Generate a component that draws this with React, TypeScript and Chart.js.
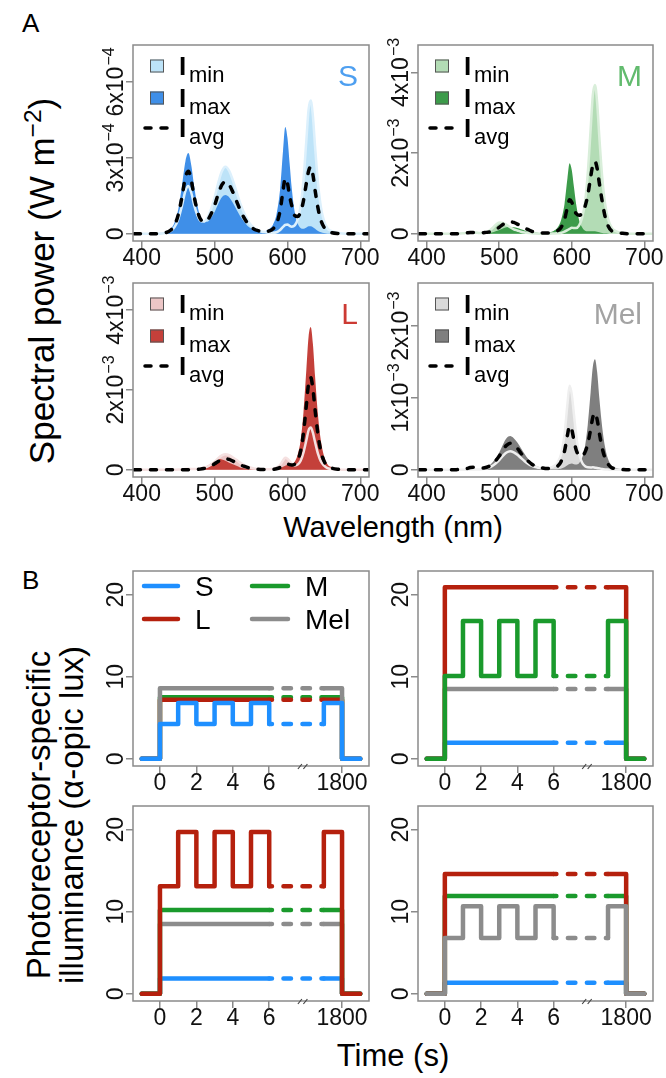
import React, { useEffect, useRef } from 'react';
import { Chart, registerables } from 'chart.js';

Chart.register(...registerables);

const FONT = '"Liberation Sans", Arial, Helvetica, sans-serif';

// ---------------- Panel A : spectra ----------------
const WAVELENGTH = [
  390, 400, 410, 420, 430, 440, 445, 450, 455, 460,
  464, 468, 472, 476, 480, 485, 490, 495, 500, 505,
  510, 515, 520, 525, 530, 535, 540, 545, 550, 555,
  560, 565, 570, 575, 580, 585, 590, 594, 597, 600,
  603, 606, 610, 614, 618, 622, 626, 629, 632, 635,
  638, 642, 646, 650, 655, 660, 670, 680, 690, 700,
  710,
];

// S panel (units of 1e-4 W m-2)
const S_MIN = [
  0, 0, 0, 0, 0.02, 0.11, 0.26, 0.56, 1.08, 1.70,
  1.89, 1.62, 1.13, 0.76, 0.53, 0.48, 0.62, 0.96, 1.42, 2.01,
  2.47, 2.65, 2.49, 2.12, 1.67, 1.22, 0.85, 0.56, 0.34, 0.21,
  0.14, 0.08, 0.06, 0.04, 0.04, 0.06, 0.15, 0.27, 0.35, 0.37,
  0.31, 0.28, 0.33, 0.56, 1.06, 2.11, 3.69, 4.90, 5.27, 4.64,
  3.43, 2.00, 1.05, 0.53, 0.21, 0.11, 0.03, 0, 0, 0,
  0,
];
const S_MAX = [
  0, 0, 0, 0, 0.03, 0.19, 0.44, 0.95, 1.84, 2.87,
  3.19, 2.71, 1.87, 1.19, 0.72, 0.49, 0.47, 0.62, 0.86, 1.18,
  1.44, 1.53, 1.44, 1.22, 0.96, 0.70, 0.49, 0.32, 0.22, 0.14,
  0.12, 0.09, 0.11, 0.19, 0.35, 0.76, 1.77, 3.29, 4.22, 3.80,
  2.79, 1.78, 0.86, 0.41, 0.23, 0.20, 0.25, 0.30, 0.30, 0.26,
  0.20, 0.11, 0.06, 0.03, 0.01, 0.006, 0, 0, 0, 0,
  0,
];
const S_AVG = [
  0, 0, 0, 0, 0.02, 0.15, 0.34, 0.74, 1.42, 2.23,
  2.47, 2.11, 1.46, 0.95, 0.61, 0.48, 0.53, 0.77, 1.12, 1.57,
  1.93, 2.06, 1.94, 1.65, 1.30, 0.95, 0.66, 0.43, 0.28, 0.17,
  0.12, 0.08, 0.08, 0.11, 0.19, 0.39, 0.92, 1.71, 2.19, 2.00,
  1.49, 1.10, 0.72, 0.68, 0.85, 1.30, 2.00, 2.47, 2.65, 2.33,
  1.72, 1.01, 0.53, 0.27, 0.11, 0.05, 0.01, 0, 0, 0,
  0,
];

// M panel (units of 1e-3 W m-2)
const M_MIN = [
  0, 0, 0, 0, 0, 0, 0.004, 0.01, 0.02, 0.03,
  0.03, 0.03, 0.02, 0.02, 0.03, 0.06, 0.13, 0.22, 0.28, 0.27,
  0.22, 0.16, 0.11, 0.08, 0.05, 0.03, 0.02, 0.01, 0.003, 0,
  0, 0, 0, 0.005, 0.01, 0.02, 0.05, 0.09, 0.12, 0.15,
  0.14, 0.14, 0.20, 0.38, 0.74, 1.48, 2.58, 3.43, 3.69, 3.25,
  2.40, 1.40, 0.74, 0.37, 0.15, 0.07, 0.02, 0, 0, 0,
  0,
];
const M_MAX = [
  0, 0, 0, 0, 0, 0, 0, 0, 0, 0,
  0, 0, 0.003, 0.006, 0.01, 0.02, 0.03, 0.06, 0.09, 0.13,
  0.16, 0.17, 0.16, 0.14, 0.11, 0.08, 0.05, 0.04, 0.03, 0.02,
  0.02, 0.02, 0.04, 0.07, 0.14, 0.32, 0.74, 1.37, 1.75, 1.58,
  1.16, 0.74, 0.35, 0.17, 0.08, 0.06, 0.06, 0.06, 0.06, 0.05,
  0.04, 0.02, 0.01, 0.006, 0, 0, 0, 0, 0, 0,
  0,
];
const M_AVG = [
  0, 0, 0, 0, 0, 0, 0.004, 0.01, 0.02, 0.03,
  0.03, 0.03, 0.02, 0.02, 0.03, 0.04, 0.06, 0.10, 0.16, 0.23,
  0.28, 0.30, 0.28, 0.24, 0.19, 0.14, 0.10, 0.06, 0.04, 0.03,
  0.02, 0.02, 0.02, 0.04, 0.07, 0.15, 0.35, 0.66, 0.84, 0.78,
  0.62, 0.50, 0.46, 0.50, 0.66, 0.95, 1.40, 1.70, 1.79, 1.62,
  1.25, 0.80, 0.42, 0.20, 0.07, 0.04, 0.01, 0, 0, 0,
  0,
];

// L panel (units of 1e-3 W m-2)
const L_MIN = [
  0, 0, 0, 0, 0, 0, 0.003, 0.006, 0.012, 0.022,
  0.024, 0.023, 0.02, 0.021, 0.027, 0.045, 0.08, 0.13, 0.20, 0.29,
  0.36, 0.39, 0.37, 0.31, 0.25, 0.18, 0.125, 0.08, 0.05, 0.03,
  0.023, 0.015, 0.014, 0.016, 0.026, 0.054, 0.126, 0.234, 0.30, 0.28,
  0.22, 0.15, 0.11, 0.13, 0.22, 0.43, 0.74, 0.99, 1.06, 0.93,
  0.69, 0.40, 0.21, 0.11, 0.04, 0.02, 0.005, 0, 0, 0,
  0,
];
const L_MAX = [
  0, 0, 0, 0, 0, 0, 0, 0, 0, 0,
  0.003, 0.005, 0.01, 0.016, 0.027, 0.054, 0.10, 0.16, 0.22, 0.27,
  0.26, 0.23, 0.18, 0.14, 0.10, 0.06, 0.04, 0.02, 0.01, 0.01,
  0.005, 0.003, 0.002, 0.004, 0.008, 0.018, 0.042, 0.078, 0.10, 0.13,
  0.12, 0.13, 0.20, 0.37, 0.72, 1.43, 2.51, 3.33, 3.58, 3.15,
  2.33, 1.36, 0.72, 0.36, 0.14, 0.07, 0.02, 0, 0, 0,
  0,
];
const L_AVG = [
  0, 0, 0, 0, 0, 0, 0, 0, 0, 0,
  0.002, 0.003, 0.005, 0.01, 0.017, 0.031, 0.056, 0.095, 0.15, 0.21,
  0.26, 0.28, 0.26, 0.22, 0.18, 0.13, 0.09, 0.06, 0.036, 0.022,
  0.014, 0.008, 0.006, 0.006, 0.011, 0.025, 0.059, 0.11, 0.14, 0.15,
  0.13, 0.12, 0.14, 0.24, 0.46, 0.92, 1.62, 2.15, 2.31, 2.03,
  1.50, 0.88, 0.46, 0.23, 0.09, 0.046, 0.012, 0, 0, 0,
  0,
];

// Mel panel (units of 1e-3 W m-2)
const MEL_MIN = [
  0, 0, 0, 0, 0, 0, 0, 0, 0, 0.003,
  0.003, 0.004, 0.005, 0.009, 0.016, 0.029, 0.052, 0.088, 0.135, 0.195,
  0.24, 0.26, 0.244, 0.21, 0.164, 0.12, 0.083, 0.055, 0.04, 0.027,
  0.025, 0.02, 0.028, 0.05, 0.094, 0.21, 0.49, 0.91, 1.17, 1.05,
  0.77, 0.49, 0.23, 0.105, 0.053, 0.035, 0.033, 0.034, 0.03, 0.026,
  0.02, 0.011, 0.006, 0.003, 0, 0, 0, 0, 0, 0,
  0,
];
const MEL_MAX = [
  0, 0, 0, 0, 0, 0, 0, 0, 0, 0.005,
  0.005, 0.007, 0.009, 0.016, 0.028, 0.052, 0.094, 0.16, 0.24, 0.35,
  0.44, 0.47, 0.44, 0.38, 0.30, 0.22, 0.15, 0.10, 0.06, 0.038,
  0.024, 0.014, 0.009, 0.008, 0.008, 0.014, 0.034, 0.062, 0.08, 0.087,
  0.076, 0.073, 0.093, 0.16, 0.31, 0.62, 1.08, 1.43, 1.54, 1.36,
  1.00, 0.59, 0.31, 0.15, 0.06, 0.03, 0.008, 0, 0, 0,
  0,
];
const MEL_AVG = [
  0, 0, 0, 0, 0, 0.002, 0.004, 0.009, 0.017, 0.031,
  0.034, 0.032, 0.024, 0.024, 0.028, 0.044, 0.074, 0.126, 0.19, 0.28,
  0.34, 0.37, 0.35, 0.30, 0.23, 0.17, 0.12, 0.078, 0.051, 0.033,
  0.025, 0.017, 0.019, 0.028, 0.049, 0.11, 0.26, 0.48, 0.61, 0.56,
  0.41, 0.28, 0.20, 0.19, 0.24, 0.36, 0.56, 0.73, 0.79, 0.70,
  0.51, 0.30, 0.16, 0.08, 0.03, 0.016, 0.004, 0, 0, 0,
  0,
];

const A_XTICKS = [400, 500, 600, 700];
const A_XTICK_LABELS = ['400', '500', '600', '700'];
const S_YTICKS = [0, 3, 6];
const S_YTICK_LABELS = ['0', '3x10^\u22124', '6x10^\u22124'];
const ML_YTICKS = [0, 2, 4];
const ML_YTICK_LABELS = ['0', '2x10^\u22123', '4x10^\u22123'];
const MEL_YTICKS = [0, 1, 2];
const MEL_YTICK_LABELS = ['0', '1x10^\u22123', '2x10^\u22123'];
const A_LEGEND_SUBS = ['min', 'max', 'avg'];

// ---------------- Panel B : time courses ----------------
const STEP_TIMES = [-1, 0, 1, 2, 3, 4, 5, 6, 9, 10, 11];
// level on each interval between consecutive STEP_TIMES (alpha-opic lux)
const B1_S = [0, 4.25, 6.8, 4.25, 6.8, 4.25, 6.8, 4.25, 6.8, 0];
const B1_M = [0, 7.5, 7.5, 7.5, 7.5, 7.5, 7.5, 7.5, 7.5, 0];
const B1_L = [0, 7.2, 7.2, 7.2, 7.2, 7.2, 7.2, 7.2, 7.2, 0];
const B1_MEL = [0, 8.6, 8.6, 8.6, 8.6, 8.6, 8.6, 8.6, 8.6, 0];
const B2_S = [0, 1.95, 1.95, 1.95, 1.95, 1.95, 1.95, 1.95, 1.95, 0];
const B2_M = [0, 10.1, 16.8, 10.1, 16.8, 10.1, 16.8, 10.1, 16.8, 0];
const B2_L = [0, 20.9, 20.9, 20.9, 20.9, 20.9, 20.9, 20.9, 20.9, 0];
const B2_MEL = [0, 8.5, 8.5, 8.5, 8.5, 8.5, 8.5, 8.5, 8.5, 0];
const B3_S = [0, 1.85, 1.85, 1.85, 1.85, 1.85, 1.85, 1.85, 1.85, 0];
const B3_M = [0, 10.2, 10.2, 10.2, 10.2, 10.2, 10.2, 10.2, 10.2, 0];
const B3_L = [0, 13.1, 19.7, 13.1, 19.7, 13.1, 19.7, 13.1, 19.7, 0];
const B3_MEL = [0, 8.5, 8.5, 8.5, 8.5, 8.5, 8.5, 8.5, 8.5, 0];
const B4_S = [0, 1.35, 1.35, 1.35, 1.35, 1.35, 1.35, 1.35, 1.35, 0];
const B4_M = [0, 11.9, 11.9, 11.9, 11.9, 11.9, 11.9, 11.9, 11.9, 0];
const B4_L = [0, 14.6, 14.6, 14.6, 14.6, 14.6, 14.6, 14.6, 14.6, 0];
const B4_MEL = [0, 6.8, 10.65, 6.8, 10.65, 6.8, 10.65, 6.8, 10.65, 0];

const B_XTICKS = [0, 2, 4, 6, 10];
const B_XTICK_LABELS = ['0', '2', '4', '6', '1800'];
const B_YTICKS = [0, 10, 20];
const B_YTICK_LABELS = ['0', '10', '20'];
const B_LEGEND_LABELS = ['S', 'M', 'L', 'Mel'];
const DASHED_FROM = 6;
const DASHED_TO = 9;
const B_BREAK_AT = 7.85;

// ---------------- styling ----------------
const COL_S = '#1e8fff';
const COL_M = '#1a9a2c';
const COL_L = '#b5200d';
const COL_MEL = '#8c8c8c';
const AVG_DASH = [6, 10];
const SEG_DASH = [7.5, 11.5];
const SEG_DASH_OFFSET = 4.75;

const ML = 50, MR = 12, MT = 8, MB = 40;
type Box = { l: number; t: number; r: number; b: number };
const BOX_A1: Box = { l: 133, t: 45, r: 369, b: 241 };
const BOX_A2: Box = { l: 418, t: 45, r: 653, b: 241 };
const BOX_A3: Box = { l: 133, t: 283, r: 369, b: 477 };
const BOX_A4: Box = { l: 418, t: 283, r: 653, b: 477 };
const BOX_B1: Box = { l: 133, t: 571, r: 369, b: 766 };
const BOX_B2: Box = { l: 418, t: 571, r: 653, b: 766 };
const BOX_B3: Box = { l: 133, t: 806, r: 369, b: 1001 };
const BOX_B4: Box = { l: 418, t: 806, r: 653, b: 1001 };

function makeAxis(min: number, max: number, ticks: number[], horizontal: boolean) {
  return {
    type: 'linear' as const,
    min,
    max,
    afterBuildTicks: (s: any) => {
      s.ticks = ticks.map((v) => ({ value: v }));
    },
    afterFit: (s: any) => {
      if (horizontal) s.height = MB;
      else s.width = ML;
    },
    ticks: { display: false },
    grid: {
      display: true,
      drawOnChartArea: false,
      drawTicks: true,
      tickLength: 7,
      color: '#8a8a8a',
      lineWidth: 1.5,
    },
    border: { display: false },
  };
}

function drawRich(ctx: CanvasRenderingContext2D, label: string) {
  const [main, sup] = label.split('^');
  ctx.textAlign = 'left';
  ctx.font = `23px ${FONT}`;
  const w1 = ctx.measureText(main).width;
  let w2 = 0;
  if (sup) {
    ctx.font = `16px ${FONT}`;
    w2 = ctx.measureText(sup).width + 1;
  }
  const x0 = -(w1 + w2) / 2;
  ctx.font = `23px ${FONT}`;
  ctx.fillText(main, x0, 0);
  if (sup) {
    ctx.font = `16px ${FONT}`;
    ctx.fillText(sup, x0 + w1 + 1, -9);
  }
}

function decor(xLabels: string[], yLabels: string[], extra: (ctx: CanvasRenderingContext2D, a: any, chart: any) => void) {
  return {
    id: 'decor',
    afterDraw(chart: any) {
      const ctx: CanvasRenderingContext2D = chart.ctx;
      const a = chart.chartArea;
      const xs = chart.scales.x;
      const ys = chart.scales.y;
      ctx.save();
      ctx.setLineDash([]);
      ctx.strokeStyle = '#8a8a8a';
      ctx.lineWidth = 1.5;
      ctx.strokeRect(a.left, a.top, a.right - a.left, a.bottom - a.top);
      ctx.fillStyle = '#111';
      ctx.textBaseline = 'alphabetic';
      ctx.font = `23px ${FONT}`;
      ctx.textAlign = 'center';
      xs.ticks.forEach((t: any, i: number) => {
        ctx.fillText(xLabels[i], xs.getPixelForValue(t.value), a.bottom + 24);
      });
      ys.ticks.forEach((t: any, i: number) => {
        ctx.save();
        ctx.translate(a.left - 10, ys.getPixelForValue(t.value));
        ctx.rotate(-Math.PI / 2);
        drawRich(ctx, yLabels[i]);
        ctx.restore();
      });
      extra(ctx, a, chart);
      ctx.restore();
    },
  };
}

type SpecPanel = {
  name: string;
  min: number[];
  max: number[];
  avg: number[];
  ymin: number;
  ymax: number;
  yticks: number[];
  ylabels: string[];
  minFill: string;
  maxFill: string;
  minLine: string;
  nameColor: string;
};

const PANEL_S: SpecPanel = {
  name: 'S', min: S_MIN, max: S_MAX, avg: S_AVG, ymin: -0.287, ymax: 7.46,
  yticks: S_YTICKS, ylabels: S_YTICK_LABELS,
  minFill: '#bde3f8', maxFill: '#3f8fe8', minLine: '#dcf0fc', nameColor: '#4e9ff0',
};
const PANEL_M: SpecPanel = {
  name: 'M', min: M_MIN, max: M_MAX, avg: M_AVG, ymin: -0.18, ymax: 4.68,
  yticks: ML_YTICKS, ylabels: ML_YTICK_LABELS,
  minFill: '#b3dcb5', maxFill: '#3c9b4a', minLine: '#d9eeda', nameColor: '#62bb6e',
};
const PANEL_L: SpecPanel = {
  name: 'L', min: L_MIN, max: L_MAX, avg: L_AVG, ymin: -0.18, ymax: 4.68,
  yticks: ML_YTICKS, ylabels: ML_YTICK_LABELS,
  minFill: '#ecc6c6', maxFill: '#c4403a', minLine: '#f5e1e1', nameColor: '#cc3a33',
};
const PANEL_MEL: SpecPanel = {
  name: 'Mel', min: MEL_MIN, max: MEL_MAX, avg: MEL_AVG, ymin: -0.1, ymax: 2.6,
  yticks: MEL_YTICKS, ylabels: MEL_YTICK_LABELS,
  minFill: '#dadada', maxFill: '#7f7f7f', minLine: '#efefef', nameColor: '#a3a3a3',
};

function drawALegend(ctx: CanvasRenderingContext2D, a: any, p: SpecPanel) {
  const rows = [a.top + 21, a.top + 53, a.top + 83];
  [p.minFill, p.maxFill].forEach((c, i) => {
    ctx.fillStyle = c;
    ctx.fillRect(a.left + 17, rows[i] - 6.5, 14, 13);
    ctx.strokeStyle = '#555';
    ctx.lineWidth = 1;
    ctx.strokeRect(a.left + 17.5, rows[i] - 6, 13, 12);
  });
  ctx.strokeStyle = '#000';
  ctx.lineWidth = 3.5;
  ctx.lineCap = 'round';
  ctx.setLineDash(AVG_DASH);
  ctx.beginPath();
  ctx.moveTo(a.left + 12, rows[2]);
  ctx.lineTo(a.left + 35, rows[2]);
  ctx.stroke();
  ctx.setLineDash([]);
  ctx.fillStyle = '#000';
  ctx.textAlign = 'left';
  A_LEGEND_SUBS.forEach((sub, i) => {
    ctx.font = `bold 26px ${FONT}`;
    ctx.fillText('I', a.left + 46, rows[i] + 9);
    ctx.font = `22px ${FONT}`;
    ctx.fillText(sub, a.left + 56, rows[i] + 16);
  });
  ctx.fillStyle = p.nameColor;
  ctx.font = `30px ${FONT}`;
  ctx.textAlign = 'right';
  ctx.fillText(p.name, a.right - 11, a.top + 41);
}

function spectrumConfig(p: SpecPanel): any {
  const pts = (arr: number[]) => WAVELENGTH.map((w, i) => ({ x: w, y: arr[i] }));
  const base = { pointRadius: 0, cubicInterpolationMode: 'monotone', borderCapStyle: 'round', borderJoinStyle: 'round' };
  return {
    type: 'line',
    data: {
      datasets: [
        { ...base, data: pts(p.min), fill: 'origin', backgroundColor: p.minFill, borderColor: 'rgba(0,0,0,0)', borderWidth: 0, order: 3 },
        { ...base, data: pts(p.max), fill: 'origin', backgroundColor: p.maxFill, borderColor: 'rgba(0,0,0,0)', borderWidth: 0, order: 2 },
        { ...base, data: pts(p.min), fill: false, borderColor: p.minLine, borderWidth: 2.5, order: 1 },
        { ...base, data: pts(p.avg), fill: false, borderColor: '#000', borderWidth: 3.5, borderDash: AVG_DASH, order: 0 },
      ],
    },
    options: {
      responsive: false,
      animation: false,
      devicePixelRatio: 1,
      events: [],
      layout: { padding: { left: 0, right: MR, top: MT, bottom: 0 } },
      plugins: { legend: { display: false }, tooltip: { enabled: false } },
      scales: {
        x: makeAxis(388, 712, A_XTICKS, true),
        y: makeAxis(p.ymin, p.ymax, p.yticks, false),
      },
    },
    plugins: [decor(A_XTICK_LABELS, p.ylabels, (ctx, a) => drawALegend(ctx, a, p))],
  };
}

function stepPoints(levels: number[]) {
  const pts: { x: number; y: number }[] = [];
  for (let i = 0; i < levels.length; i++) {
    pts.push({ x: STEP_TIMES[i], y: levels[i] }, { x: STEP_TIMES[i + 1], y: levels[i] });
  }
  return pts;
}

const isDashed = (c: any) => c.p0.parsed.x === DASHED_FROM && c.p1.parsed.x === DASHED_TO;

function stepDataset(levels: number[], color: string, order: number) {
  return {
    data: stepPoints(levels),
    borderColor: color,
    borderWidth: 4.5,
    pointRadius: 0,
    fill: false,
    tension: 0,
    borderCapStyle: 'round',
    borderJoinStyle: 'round',
    order,
    segment: {
      borderDash: (c: any) => (isDashed(c) ? SEG_DASH : undefined),
      borderDashOffset: (c: any) => (isDashed(c) ? SEG_DASH_OFFSET : undefined),
    },
  };
}

type TimePanel = {
  s: number[]; m: number[]; l: number[]; mel: number[];
  order: { s: number; m: number; l: number; mel: number };
  legend: boolean;
};

const PANEL_B1: TimePanel = { s: B1_S, m: B1_M, l: B1_L, mel: B1_MEL, order: { s: 0, mel: 1, l: 2, m: 3 }, legend: true };
const PANEL_B2: TimePanel = { s: B2_S, m: B2_M, l: B2_L, mel: B2_MEL, order: { m: 0, l: 1, mel: 2, s: 3 }, legend: false };
const PANEL_B3: TimePanel = { s: B3_S, m: B3_M, l: B3_L, mel: B3_MEL, order: { l: 0, m: 1, mel: 2, s: 3 }, legend: false };
const PANEL_B4: TimePanel = { s: B4_S, m: B4_M, l: B4_L, mel: B4_MEL, order: { mel: 0, l: 1, m: 2, s: 3 }, legend: false };

function drawBExtras(ctx: CanvasRenderingContext2D, a: any, chart: any, legend: boolean) {
  const xs = chart.scales.x;
  const px = xs.getPixelForValue(B_BREAK_AT);
  ctx.strokeStyle = '#444';
  ctx.lineWidth = 1.2;
  ctx.lineCap = 'butt';
  ctx.beginPath();
  ctx.moveTo(px - 5, a.bottom + 3);
  ctx.lineTo(px - 1, a.bottom - 2);
  ctx.moveTo(px + 0.5, a.bottom + 3);
  ctx.lineTo(px + 4.5, a.bottom - 2);
  ctx.stroke();
  if (!legend) return;
  const colors = [COL_S, COL_M, COL_L, COL_MEL];
  const rows = [a.top + 15, a.top + 48];
  const lineX = [[a.left + 11, a.left + 45], [a.left + 119, a.left + 155]];
  const textX = [a.left + 62, a.left + 172];
  B_LEGEND_LABELS.forEach((lab, i) => {
    const col = i % 2;
    const row = Math.floor(i / 2);
    ctx.strokeStyle = colors[i];
    ctx.lineWidth = 4.5;
    ctx.lineCap = 'round';
    ctx.beginPath();
    ctx.moveTo(lineX[col][0], rows[row]);
    ctx.lineTo(lineX[col][1], rows[row]);
    ctx.stroke();
    ctx.fillStyle = '#000';
    ctx.font = `28px ${FONT}`;
    ctx.textAlign = 'left';
    ctx.fillText(lab, textX[col], rows[row] + 10);
  });
}

function timeConfig(p: TimePanel): any {
  return {
    type: 'line',
    data: {
      datasets: [
        stepDataset(p.l, COL_L, p.order.l),
        stepDataset(p.m, COL_M, p.order.m),
        stepDataset(p.mel, COL_MEL, p.order.mel),
        stepDataset(p.s, COL_S, p.order.s),
      ],
    },
    options: {
      responsive: false,
      animation: false,
      devicePixelRatio: 1,
      events: [],
      layout: { padding: { left: 0, right: MR, top: MT, bottom: 0 } },
      plugins: { legend: { display: false }, tooltip: { enabled: false } },
      scales: {
        x: makeAxis(-1.48, 11.48, B_XTICKS, true),
        y: makeAxis(-0.88, 22.88, B_YTICKS, false),
      },
    },
    plugins: [decor(B_XTICK_LABELS, B_YTICK_LABELS, (ctx, a, chart) => drawBExtras(ctx, a, chart, p.legend))],
  };
}

function ChartPanel({ box, make }: { box: Box; make: () => any }) {
  const ref = useRef<HTMLCanvasElement>(null);
  useEffect(() => {
    const chart = new Chart(ref.current as HTMLCanvasElement, make());
    return () => chart.destroy();
  }, []);
  const w = box.r - box.l + ML + MR;
  const h = box.b - box.t + MT + MB;
  return (
    <canvas
      ref={ref}
      width={w}
      height={h}
      style={{ position: 'absolute', left: box.l - ML, top: box.t - MT, width: w, height: h }}
    />
  );
}

function Text({ x, baseline, size, children, center }: { x: number; baseline: number; size: number; children: React.ReactNode; center?: boolean }) {
  return (
    <div
      style={{
        position: 'absolute',
        left: x,
        top: baseline - 0.8465 * size,
        fontSize: size,
        lineHeight: 1,
        fontFamily: FONT,
        whiteSpace: 'nowrap',
        color: '#000',
        transform: center ? 'translateX(-50%)' : undefined,
      }}
    >
      {children}
    </div>
  );
}

function VText({ cx, cy, size, children }: { cx: number; cy: number; size: number; children: React.ReactNode }) {
  return (
    <div
      style={{
        position: 'absolute',
        left: cx,
        top: cy,
        fontSize: size,
        lineHeight: 1,
        fontFamily: FONT,
        whiteSpace: 'nowrap',
        color: '#000',
        transform: 'translate(-50%, -50%) rotate(-90deg)',
      }}
    >
      {children}
    </div>
  );
}

export default function App() {
  return (
    <div style={{ position: 'absolute', left: 0, top: 0, width: 666, height: 1078, background: '#fff', overflow: 'hidden' }}>
      <Text x={22} baseline={32} size={26}>A</Text>
      <Text x={22} baseline={589} size={26}>B</Text>
      <VText cx={41} cy={281} size={35}>
        Spectral power (W m<span style={{ fontSize: '0.7em', position: 'relative', top: '-0.55em' }}>{'\u22122'}</span>)
      </VText>
      <Text x={393} baseline={538} size={29} center>Wavelength (nm)</Text>
      <VText cx={38} cy={815} size={33}>Photoreceptor-specific</VText>
      <VText cx={71} cy={815} size={33}>illuminance ({'\u03b1'}-opic lux)</VText>
      <Text x={393} baseline={1066} size={31} center>Time (s)</Text>

      <ChartPanel box={BOX_A1} make={() => spectrumConfig(PANEL_S)} />
      <ChartPanel box={BOX_A2} make={() => spectrumConfig(PANEL_M)} />
      <ChartPanel box={BOX_A3} make={() => spectrumConfig(PANEL_L)} />
      <ChartPanel box={BOX_A4} make={() => spectrumConfig(PANEL_MEL)} />
      <ChartPanel box={BOX_B1} make={() => timeConfig(PANEL_B1)} />
      <ChartPanel box={BOX_B2} make={() => timeConfig(PANEL_B2)} />
      <ChartPanel box={BOX_B3} make={() => timeConfig(PANEL_B3)} />
      <ChartPanel box={BOX_B4} make={() => timeConfig(PANEL_B4)} />
    </div>
  );
}
